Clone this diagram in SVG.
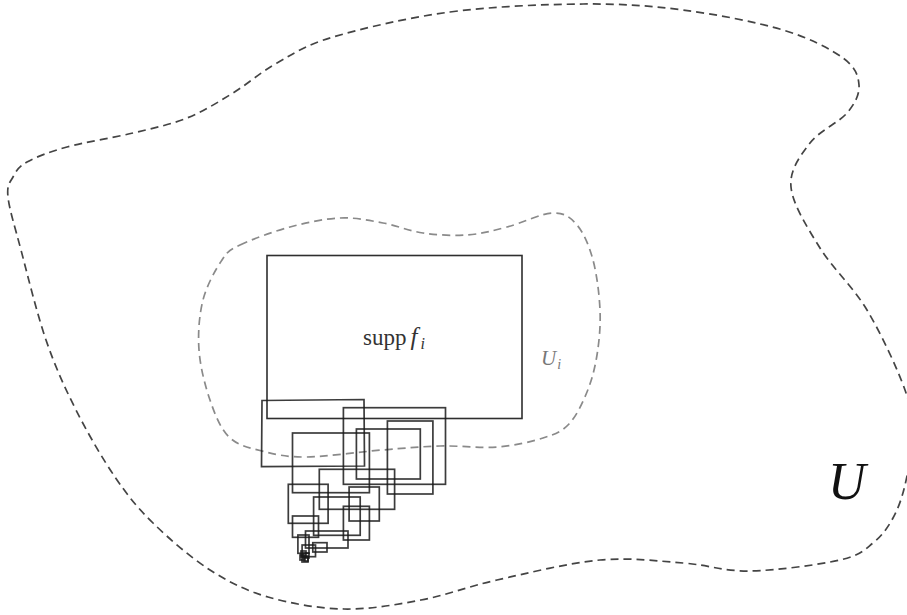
<svg xmlns="http://www.w3.org/2000/svg" width="907" height="615" viewBox="0 0 907 615">
<style>
.outer{fill:none;stroke:#444;stroke-width:1.7;stroke-dasharray:8 5}
.inner{fill:none;stroke:#8a8a8a;stroke-width:1.7;stroke-dasharray:8 5}
.sq{fill:none;stroke:#1a1a1a;stroke-width:1.7;stroke-opacity:0.85}
.main{fill:none;stroke:#2e2e2e;stroke-width:1.6}
.tx{font-family:"Liberation Serif","DejaVu Serif",serif}
</style>
<rect width="907" height="615" fill="#fff"/>
<g id="U">
<path class="outer" d="M 450,12 C 491.7,6.5 544.2,4.3 583,4 S 649.7,5.7 683,10 S 756.3,22 783,30 S 830.3,48.8 843,58 S 858.3,75.8 859,85 S 855.2,103.3 847,113 S 819.3,130.7 810,143 S 789.3,169.5 791,187 S 807.3,227.5 820,248 S 852.8,286.3 867,310 S 897.5,368.8 905,390 S 912,421.2 912,437 S 908.2,471.5 905,485 S 898.3,508.3 893,518 S 881.8,536 873,543 S 860.5,555.3 840,560 S 776.2,570.5 750,571 S 708,564.8 683,563 S 631,557.2 600,560 S 526.8,573.3 497,580 S 446.5,595.2 421,600 S 369.5,609.5 344,609 S 290.3,603.5 268,597 S 229.2,582.3 210,570 S 168.8,538.5 153,523 S 127.8,495.8 115,477 S 87.5,432.8 76,410 S 55.2,366.7 46,340 S 27.3,273.8 21,250 S 9.3,209.2 8,197 S 9.8,182.8 13,177 S 18,167 27,162 S 49.3,151.8 67,147 S 113,137.8 133,133 S 170.3,124.7 187,118 S 218,102.2 233,93 S 260.3,72.3 277,63 S 304.2,45.5 333,37 S 408.3,17.5 450,12 Z"/>
<text class="tx" x="828" y="499" font-size="52" font-style="italic" fill="#111">U</text>
</g>
<g id="Ui">
<path class="inner" d="M 240,245 C 251.3,239.5 273.3,231.5 290,227 S 324.5,218.7 340,218 S 369.2,220.5 383,223 S 409,231 423,233 S 453,236 467,235 S 492.7,230.7 507,227 S 541.3,213.3 553,213 S 570.3,217.2 577,225 S 589.2,245.8 593,260 S 599.3,294.2 600,310 S 599.2,341.3 597,355 S 591.7,380.5 587,392 S 576.3,416.3 569,424 S 555,434.2 543,438 S 514.2,445.7 497,447 S 459.2,445.5 440,446 S 404.3,448.2 382,450 S 326,456.8 306,457 S 274.8,454.3 262,451 S 237.7,445.5 229,437 S 215,414.5 210,400 S 200.2,366.7 199,350 S 199.2,315 203,300 S 215.8,269.2 222,260 S 228.7,250.5 240,245 Z"/>
<text class="tx" x="541" y="365" font-size="21" font-style="italic" fill="#777">U<tspan font-size="14" dy="4" dx="1">i</tspan></text>
</g>
<g id="supp">
<rect class="main" x="267" y="255.5" width="255" height="163"/>
<text class="tx" x="363" y="345" font-size="23" fill="#333">supp<tspan font-style="italic" font-size="25" dx="4">f</tspan><tspan font-style="italic" font-size="16" dy="4" dx="3">i</tspan></text>
</g>
<g id="squares">
<path class="sq" d="M262,400.5 L364,399.5 L364.5,466 L261.5,466.7 Z"/>
<rect class="sq" x="343.4" y="407.7" width="102.1" height="76.6"/>
<rect class="sq" x="387.4" y="421" width="45.5" height="73"/>
<rect class="sq" x="356.4" y="429" width="63.9" height="50"/>
<rect class="sq" x="292.5" y="433" width="76.9" height="59.7"/>
<rect class="sq" x="319.3" y="469.3" width="75.3" height="40"/>
<rect class="sq" x="288.3" y="484.3" width="39.8" height="39"/>
<rect class="sq" x="349.1" y="487" width="30.2" height="34"/>
<rect class="sq" x="313.6" y="497" width="46.6" height="38.3"/>
<rect class="sq" x="343.4" y="506.3" width="26" height="33.7"/>
<rect class="sq" x="292.5" y="516" width="26" height="21.3"/>
<rect class="sq" x="305.5" y="531" width="42.5" height="17"/>
<rect class="sq" x="297.9" y="535" width="11.1" height="18.3"/>
<rect class="sq" x="312.8" y="542.7" width="14.2" height="9.3"/>
<rect class="sq" x="302.1" y="545" width="13.4" height="11.7"/>
<rect class="sq" x="301" y="551" width="5" height="6"/>
<rect class="sq" x="303" y="553" width="6" height="5"/>
<rect class="sq" x="300" y="555" width="5" height="5"/>
<rect class="sq" x="304" y="557" width="4" height="4"/>
<rect class="sq" x="302" y="556" width="6" height="6"/>
</g>
<g id="connectors"/>
</svg>
